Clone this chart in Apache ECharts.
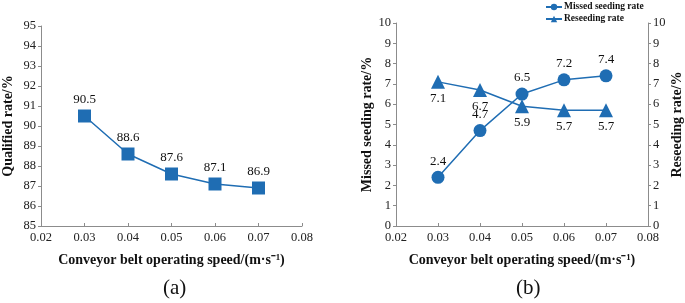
<!DOCTYPE html>
<html>
<head>
<meta charset="utf-8">
<script src="https://cdn.jsdelivr.net/npm/echarts@6/dist/echarts.min.js"></script>
<style>
  html, body { margin: 0; padding: 0; background: #fff; }
  #main { width: 685px; height: 303px; }
</style>
</head>
<body>
<div id="main"></div>
<script>
const speeds = [0.03, 0.04, 0.05, 0.06, 0.07];
const qualifiedRate = [90.5, 88.6, 87.6, 87.1, 86.9];
const missedRate = [2.4, 4.7, 6.5, 7.2, 7.4];
const reseedingRate = [7.1, 6.7, 5.9, 5.7, 5.7];

const blue = '#1f6db3';
const axisGray = '#8c8c8c';
const font = '"Liberation Serif", "Times New Roman", serif';

const pairs = (ys) => speeds.map((x, i) => [x, ys[i]]);

const xAxisBase = {
  type: 'value',
  min: 0.02,
  max: 0.08,
  interval: 0.01,
  name: 'Conveyor belt operating speed/(m·s⁻¹)',
  nameLocation: 'middle',
  nameGap: 27,
  nameTextStyle: { fontFamily: font, fontWeight: 'bold', fontSize: 14, color: '#111' },
  axisLine: { onZero: false, lineStyle: { color: axisGray } },
  axisTick: { inside: true, length: 3, lineStyle: { color: axisGray } },
  axisLabel: { fontFamily: font, fontSize: 12.5, color: '#222', margin: 5, formatter: v => v.toFixed(2) },
  splitLine: { show: false }
};

const yAxisBase = {
  type: 'value',
  nameLocation: 'middle',
  nameTextStyle: { fontFamily: font, fontWeight: 'bold', fontSize: 14, color: '#111' },
  axisLine: { show: true, lineStyle: { color: axisGray } },
  axisTick: { show: true, length: 3, lineStyle: { color: axisGray } },
  axisLabel: { fontFamily: font, fontSize: 12.5, color: '#222', margin: 5 },
  splitLine: { show: false }
};

const labelStyle = { show: true, fontFamily: font, fontSize: 13, color: '#111' };

const chart = echarts.init(document.getElementById('main'));
chart.setOption({
  animation: false,
  textStyle: { fontFamily: font },
  title: [
    { text: '(a)', left: 158, top: 273, textStyle: { fontFamily: font, fontWeight: 'normal', fontSize: 21, color: '#111' } },
    { text: '(b)', left: 511, top: 273, textStyle: { fontFamily: font, fontWeight: 'normal', fontSize: 21, color: '#111' } }
  ],
  legend: {
    orient: 'vertical',
    left: 540,
    top: -3,
    itemGap: 2,
    itemWidth: 16,
    itemHeight: 8,
    textStyle: { fontFamily: font, fontWeight: 'bold', fontSize: 9.5, color: '#111', padding: [0, 0, 0, -3] },
    data: ['Missed seeding rate', 'Reseeding rate']
  },
  grid: [
    { left: 40, right: 383, top: 26, height: 200 },
    { left: 396, right: 33, top: 23, height: 203 }
  ],
  xAxis: [
    Object.assign({}, xAxisBase, { gridIndex: 0 }),
    Object.assign({}, xAxisBase, { gridIndex: 1 })
  ],
  yAxis: [
    Object.assign({}, yAxisBase, { gridIndex: 0, min: 85, max: 95, interval: 1, name: 'Qualified rate/%', nameGap: 26 }),
    Object.assign({}, yAxisBase, { gridIndex: 1, min: 0, max: 10, interval: 1, name: 'Missed seeding rate/%', nameGap: 21 }),
    Object.assign({}, yAxisBase, { gridIndex: 1, min: 0, max: 10, interval: 1, position: 'right', name: 'Reseeding rate/%', nameGap: 22 })
  ],
  series: [
    {
      name: 'Qualified rate',
      type: 'line',
      xAxisIndex: 0, yAxisIndex: 0,
      data: pairs(qualifiedRate),
      symbol: 'rect', symbolSize: 13,
      lineStyle: { color: blue, width: 1.5 },
      itemStyle: { color: blue },
      label: Object.assign({}, labelStyle, { position: 'top', distance: 3 })
    },
    {
      name: 'Missed seeding rate',
      type: 'line',
      xAxisIndex: 1, yAxisIndex: 1,
      data: pairs(missedRate),
      symbol: 'circle', symbolSize: 13,
      lineStyle: { color: blue, width: 1.5 },
      itemStyle: { color: blue },
      label: Object.assign({}, labelStyle, { position: 'top', distance: 3 })
    },
    {
      name: 'Reseeding rate',
      type: 'line',
      xAxisIndex: 1, yAxisIndex: 2,
      data: pairs(reseedingRate),
      symbol: 'triangle', symbolSize: 14,
      lineStyle: { color: blue, width: 1.5 },
      itemStyle: { color: blue },
      label: Object.assign({}, labelStyle, { position: 'bottom', distance: 3 })
    }
  ]
});
</script>
</body>
</html>
